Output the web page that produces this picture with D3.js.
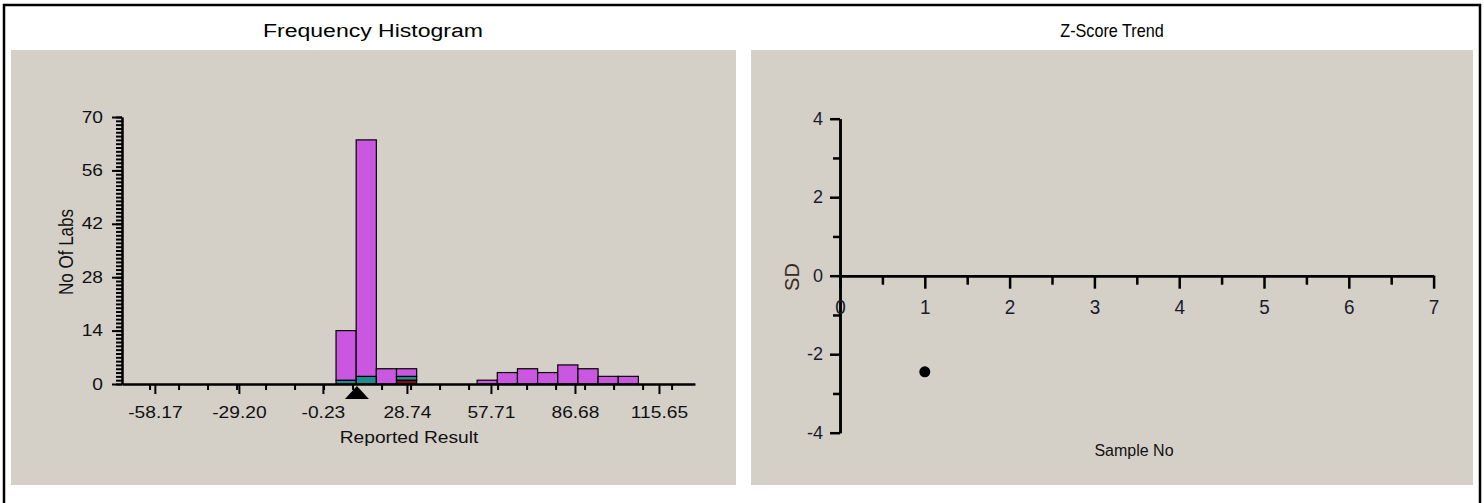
<!DOCTYPE html>
<html><head><meta charset="utf-8">
<script src="https://cdn.jsdelivr.net/npm/d3@7"></script>
<style>html,body{margin:0;padding:0;background:#fff;overflow:hidden}</style>
</head><body>
<svg id="c" width="1484" height="503"></svg>
<script>
// ---------- data ----------
const histBinLow = [4.30, 11.25, 18.20, 25.15, 52.95, 59.90, 66.85, 73.80, 80.75, 87.70, 94.65, 101.60];
const histBinWidth = 6.95;
const histMagenta = [13, 62, 4, 2, 1, 3, 4, 3, 5, 4, 2, 2];
const histTeal    = [1, 2, 0, 1, 0, 0, 0, 0, 0, 0, 0, 0];
const histRed     = [0, 0, 0, 1, 0, 0, 0, 0, 0, 0, 0, 0];
const assignedValue = 11.5;
const histXTickLabels = ["-58.17", "-29.20", "-0.23", "28.74", "57.71", "86.68", "115.65"];
const histXMinor = [-60, -50, -40, -30, -20, -10, 0, 10, 20, 30, 40, 50, 60, 70, 80, 90, 100, 110, 120];
const histYTicks = [0, 14, 28, 42, 56, 70];
const zSamples = [1];
const zScores = [-2.45];
const zXTicks = [0, 1, 2, 3, 4, 5, 6, 7];
const zXMinor = [0.5, 1.5, 2.5, 3.5, 4.5, 5.5, 6.5];
const zYTicks = [-4, -2, 0, 2, 4];
const zYMinor = [-3, -1, 1, 3];

const FONT = "'Liberation Sans', Arial, sans-serif";
const GRAY = "#D4D0C8";
const svg = d3.select("#c");

// frame and panels
svg.append("rect").attr("x", 4).attr("y", 5).attr("width", 1476).attr("height", 620)
  .attr("fill", "none").attr("stroke", "#000").attr("stroke-width", 2.5);
svg.append("rect").attr("x", 11).attr("y", 50).attr("width", 725).attr("height", 435).attr("fill", GRAY);
svg.append("rect").attr("x", 751).attr("y", 50).attr("width", 722).attr("height", 435).attr("fill", GRAY);

svg.append("text").attr("transform", "translate(373,37) scale(1.28,1)")
  .attr("text-anchor", "middle").attr("font-family", FONT).attr("font-size", 18).text("Frequency Histogram");
svg.append("text").attr("transform", "translate(1112,37) scale(0.9,1)")
  .attr("text-anchor", "middle").attr("font-family", FONT).attr("font-size", 18).text("Z-Score Trend");

// ---------- histogram ----------
const SX = 1.2;
const xL = d3.scaleLinear().domain([-69.5, 128]).range([122, 694.8]);
const yL = d3.scaleLinear().domain([0, 70]).range([384, 117]);
const gL = svg.append("g");

// bars
const segs = [];
histBinLow.forEach((lo, i) => {
  const parts = [["#8B0A0A", histRed[i]], ["#1E8C8C", histTeal[i]], ["#C957DF", histMagenta[i]]];
  let base = 0;
  parts.forEach(([col, v]) => { if (v > 0) { segs.push({lo, hi: lo + histBinWidth, y0: base, y1: base + v, col}); } base += v; });
});
gL.selectAll("rect.bar").data(segs).join("rect").attr("class", "bar")
  .attr("x", d => xL(d.lo)).attr("width", d => xL(d.hi) - xL(d.lo))
  .attr("y", d => yL(d.y1)).attr("height", d => yL(d.y0) - yL(d.y1))
  .attr("fill", d => d.col).attr("stroke", "#000").attr("stroke-width", 1.2);

// y axis
const yMinorAx = gL.append("g").attr("transform", "translate(122,0)")
  .call(d3.axisLeft(yL).tickValues(d3.range(0, 71)).tickSize(6).tickSizeOuter(0).tickFormat(""));
const yMajAx = gL.append("g").attr("transform", "translate(122,0)")
  .call(d3.axisLeft(yL).tickValues(histYTicks).tickSize(10).tickSizeOuter(0).tickPadding(9).tickFormat(d => String(d)));
// x axis
const xMinorAx = gL.append("g").attr("transform", "translate(0,384)")
  .call(d3.axisBottom(xL).tickValues(histXMinor).tickSize(6).tickSizeOuter(0).tickFormat(""));
const xMajAx = gL.append("g").attr("transform", "translate(0,384)")
  .call(d3.axisBottom(xL).tickValues(histXTickLabels.map(Number)).tickSize(10).tickSizeOuter(0).tickPadding(13)
    .tickFormat((d, i) => histXTickLabels[i]));
[yMinorAx, yMajAx, xMinorAx, xMajAx].forEach(a => {
  a.selectAll("path.domain").attr("stroke", "#000").attr("stroke-width", 2);
  a.selectAll("line").attr("stroke", "#000").attr("stroke-width", 2);
});
yMajAx.selectAll("text").attr("font-family", FONT).attr("font-size", 16).attr("fill", "#111")
  .attr("x", -19 / SX).attr("transform", `scale(${SX},1)`);
xMajAx.selectAll("text").attr("font-family", FONT).attr("font-size", 16).attr("fill", "#111")
  .attr("transform", `scale(${SX},1)`);

// assigned value marker
const ax = xL(assignedValue);
gL.append("path").attr("d", d3.line()([[ax, 386], [ax - 12, 399], [ax + 12, 399]]) + "Z").attr("fill", "#000");

gL.append("text").attr("transform", "translate(409,443) scale(1.2,1)").attr("text-anchor", "middle")
  .attr("font-family", FONT).attr("font-size", 16).attr("fill", "#111").text("Reported Result");
gL.append("text").attr("transform", "translate(73,252) scale(1.2,1) rotate(-90)").attr("text-anchor", "middle")
  .attr("font-family", FONT).attr("font-size", 17).attr("fill", "#111").text("No Of Labs");

// ---------- z-score ----------
const xR = d3.scaleLinear().domain([0, 7]).range([840, 1433.6]);
const yR = d3.scaleLinear().domain([-4, 4]).range([432.7, 118.7]);
const gR = svg.append("g");
const ryMin = gR.append("g").attr("transform", "translate(840,0)")
  .call(d3.axisLeft(yR).tickValues(zYMinor).tickSize(7).tickSizeOuter(0).tickFormat(""));
const ryMaj = gR.append("g").attr("transform", "translate(840,0)")
  .call(d3.axisLeft(yR).tickValues(zYTicks).tickSize(10).tickSizeOuter(0).tickPadding(7).tickFormat(d => String(d)));
const rxMin = gR.append("g").attr("transform", `translate(0,${yR(0)})`)
  .call(d3.axisBottom(xR).tickValues(zXMinor).tickSize(9).tickSizeOuter(0).tickFormat(""));
const rxMaj = gR.append("g").attr("transform", `translate(0,${yR(0)})`)
  .call(d3.axisBottom(xR).tickValues(zXTicks).tickSize(13).tickSizeOuter(0).tickPadding(10).tickFormat(d => String(d)));
[ryMin, ryMaj, rxMin, rxMaj].forEach(a => {
  a.selectAll("path.domain").attr("stroke", "#000").attr("stroke-width", 2.5);
  a.selectAll("line").attr("stroke", "#000").attr("stroke-width", 2.5);
});
ryMaj.selectAll("text").attr("font-family", FONT).attr("font-size", 18).attr("fill", "#1a1a2a");
rxMaj.selectAll("text").attr("font-family", FONT).attr("font-size", 21).attr("fill", "#1a1a2a")
  .attr("transform", "scale(0.9,1)");

gR.selectAll("circle.pt").data(zSamples).join("circle").attr("class", "pt")
  .attr("cx", (d) => xR(d)).attr("cy", (d, i) => yR(zScores[i])).attr("r", 5.5).attr("fill", "#000");

gR.append("text").attr("transform", "translate(799,277) rotate(-90)").attr("text-anchor", "middle")
  .attr("font-family", FONT).attr("font-size", 20).attr("fill", "#3a2a1a").text("SD");
gR.append("text").attr("transform", "translate(1134,456)").attr("text-anchor", "middle")
  .attr("font-family", FONT).attr("font-size", 16).attr("fill", "#111").text("Sample No");
</script>
</body></html>
